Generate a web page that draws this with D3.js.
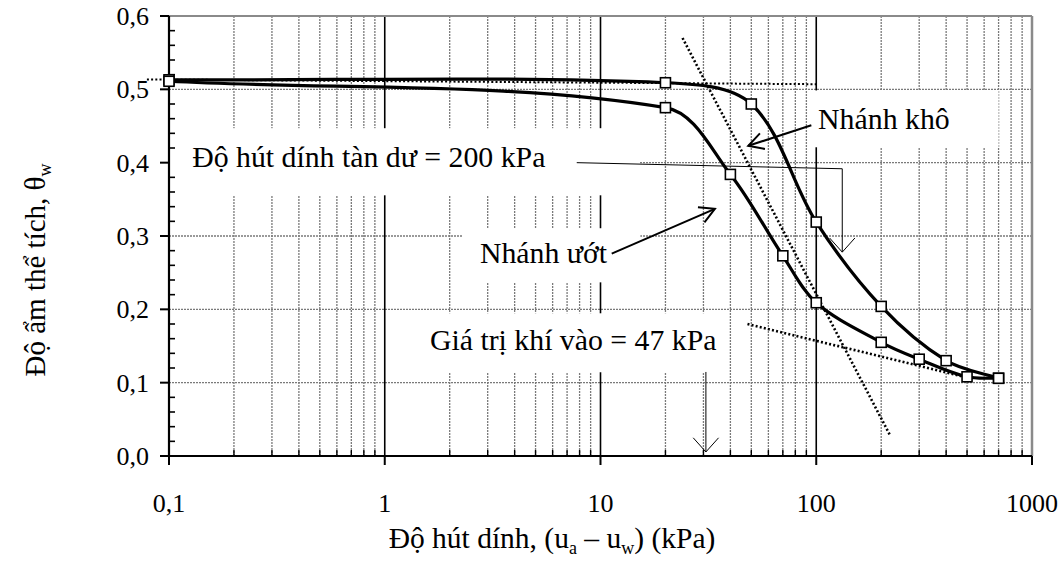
<!DOCTYPE html>
<html>
<head>
<meta charset="utf-8">
<script src="https://cdn.jsdelivr.net/npm/d3@7"></script>
<style>
body { margin: 0; background: #fff; }
text { font-family: "Liberation Serif", "Times New Roman", serif; fill: #000; }
</style>
</head>
<body>
<svg id="chart" width="1062" height="573"></svg>
<script>
// suction (kPa) and volumetric water content
const dryX = [0.1, 20, 50, 100, 200, 400, 700];
const dryY = [0.513, 0.509, 0.480, 0.319, 0.204, 0.130, 0.106];
const wetX = [0.1, 20, 40, 70, 100, 200, 300, 500, 700];
const wetY = [0.511, 0.475, 0.384, 0.273, 0.209, 0.155, 0.132, 0.108, 0.106];

// construction lines (dotted)
const satLineX = [0.079, 100];
const satLineY = [0.5135, 0.507];
const steepLineX = [24, 220];
const steepLineY = [0.570, 0.028];
const residLineX = [48, 500];
const residLineY = [0.180, 0.107];

const xTickValues = [0.1, 1, 10, 100, 1000];
const xTickLabels = ["0,1", "1", "10", "100", "1000"];
const yTickValues = [0, 0.1, 0.2, 0.3, 0.4, 0.5, 0.6];
const yTickLabels = ["0,0", "0,1", "0,2", "0,3", "0,4", "0,5", "0,6"];

const svg = d3.select("#chart"),
    width = +svg.attr("width"),
    height = +svg.attr("height");
const margin = {top: 16, right: 30, bottom: 117, left: 169};

const x = d3.scaleLog().domain([0.1, 1000]).range([margin.left, width - margin.right]);
const y = d3.scaleLinear().domain([0, 0.6]).range([height - margin.bottom, margin.top]);

const x0 = x.range()[0], x1 = x.range()[1], y0 = y.range()[0], y1 = y.range()[1];

// grid
const grid = svg.append("g");
const minorX = x.ticks().filter(function (d) {
    return xTickValues.indexOf(+d.toPrecision(6)) < 0;
});
grid.selectAll(".vminor").data(minorX).enter().append("line")
    .attr("x1", d => x(d)).attr("x2", d => x(d))
    .attr("y1", y1).attr("y2", y0)
    .attr("stroke", "#7a7a7a").attr("stroke-width", 1.3)
    .attr("stroke-dasharray", "2,1");
grid.selectAll(".hgrid").data(yTickValues.slice(1, 6)).enter().append("line")
    .attr("x1", x0).attr("x2", x1)
    .attr("y1", d => y(d)).attr("y2", d => y(d))
    .attr("stroke", "#7a7a7a").attr("stroke-width", 1.3)
    .attr("stroke-dasharray", "2,1");
grid.selectAll(".vmajor").data([1, 10, 100]).enter().append("line")
    .attr("x1", d => x(d)).attr("x2", d => x(d))
    .attr("y1", y1).attr("y2", y0)
    .attr("stroke", "#000").attr("stroke-width", 1.6);
// top and right frame
grid.append("line").attr("x1", x0).attr("x2", x1).attr("y1", y1).attr("y2", y1)
    .attr("stroke", "#8a8a8a").attr("stroke-width", 2);
grid.append("line").attr("x1", x1).attr("x2", x1).attr("y1", y1).attr("y2", y0)
    .attr("stroke", "#8a8a8a").attr("stroke-width", 2.5);

// labels with their white boxes (data coords)
const labels = [
    {text: "Độ hút dính tàn dư = 200 kPa", x: 0.128, y: 0.394, box: [0.1, 15.2, 0.447, 0.3555]},
    {text: "Nhánh khô", x: 102, y: 0.4465, box: [91, 700, 0.4985, 0.421]},
    {text: "Nhánh ướt", x: 2.76, y: 0.263, box: [2.28, 15.3, 0.3106, 0.2368]},
    {text: "Giá trị khí vào = 47 kPa", x: 1.62, y: 0.1441, box: [1.38, 36.6, 0.1946, 0.1142]}
];
svg.append("g").selectAll("rect").data(labels).enter().append("rect")
    .attr("x", d => x(d.box[0]) + 1)
    .attr("y", d => y(d.box[2]))
    .attr("width", d => x(d.box[1]) - x(d.box[0]) - 1)
    .attr("height", d => y(d.box[3]) - y(d.box[2]))
    .attr("fill", "#fff");

// axes
const axes = svg.append("g").attr("stroke", "#000");
axes.append("line").attr("x1", x0).attr("x2", x0).attr("y1", y1).attr("y2", y0 + 1)
    .attr("stroke-width", 2.2);
axes.append("line").attr("x1", x0 - 1).attr("x2", x1).attr("y1", y0).attr("y2", y0)
    .attr("stroke-width", 2.2);
axes.selectAll(".yt").data(yTickValues).enter().append("line")
    .attr("x1", x0 - 9).attr("x2", x0).attr("y1", d => y(d)).attr("y2", d => y(d))
    .attr("stroke-width", 2);
axes.selectAll(".ym").data(y.ticks(30).filter(d => Math.round(d * 100) % 10 !== 0)).enter().append("line")
    .attr("x1", x0).attr("x2", x0 + 6).attr("y1", d => y(d)).attr("y2", d => y(d))
    .attr("stroke-width", 1.6);
axes.selectAll(".xt").data(xTickValues).enter().append("line")
    .attr("x1", d => x(d)).attr("x2", d => x(d)).attr("y1", y0).attr("y2", y0 + 9)
    .attr("stroke-width", 2);
axes.selectAll(".xm").data(minorX).enter().append("line")
    .attr("x1", d => x(d)).attr("x2", d => x(d)).attr("y1", y0).attr("y2", y0 - 6)
    .attr("stroke-width", 1.4);

svg.append("g").selectAll("text").data(yTickValues).enter().append("text")
    .attr("x", x0 - 20).attr("y", d => y(d) + 9)
    .attr("text-anchor", "end").attr("font-size", 26)
    .text((d, i) => yTickLabels[i]);
svg.append("g").selectAll("text").data(xTickValues).enter().append("text")
    .attr("x", d => x(d)).attr("y", y0 + 56)
    .attr("text-anchor", "middle").attr("font-size", 26)
    .text((d, i) => xTickLabels[i]);

// dotted construction lines
const straight = d3.line().x(d => x(d[0])).y(d => y(d[1]));
[[satLineX, satLineY, 2], [steepLineX, steepLineY, 2.6], [residLineX, residLineY, 2.6]].forEach(function (l) {
    svg.append("path")
        .attr("d", straight(d3.zip(l[0], l[1])))
        .attr("fill", "none").attr("stroke", "#000")
        .attr("stroke-width", l[2]).attr("stroke-dasharray", "2,2.2");
});

// arrows
function arrow(pts, w, len, ang) {
    const p = pts.map(d => [x(d[0]), y(d[1])]);
    svg.append("path").attr("d", d3.line()(p))
        .attr("fill", "none").attr("stroke", "#000").attr("stroke-width", w);
    const a = p[p.length - 1], b = p[p.length - 2];
    const t = Math.atan2(b[1] - a[1], b[0] - a[0]);
    const head = [[a[0] + len * Math.cos(t + ang), a[1] + len * Math.sin(t + ang)], a,
        [a[0] + len * Math.cos(t - ang), a[1] + len * Math.sin(t - ang)]];
    svg.append("path").attr("d", d3.line()(head))
        .attr("fill", "none").attr("stroke", "#000").attr("stroke-width", w);
}
arrow([[94.9, 0.451], [48.4, 0.423]], 2, 17, 0.5);
arrow([[11.27, 0.276], [33.9, 0.337]], 2, 17, 0.5);
arrow([[7.76, 0.400], [132, 0.3917], [132, 0.278]], 1, 19, 0.73);
arrow([[30.8, 0.1146], [30.8, 0.0055]], 1, 19, 0.73);

// smoothed curve: bezier with chord-weighted tangents (like a spreadsheet "smoothed line")
function smoothPath(xs, ys) {
    const p = xs.map((v, i) => [x(v), y(ys[i])]);
    const n = p.length;
    const dist = (a, b) => Math.hypot(b[0] - a[0], b[1] - a[1]);
    const tan = p.map(function (pt, i) {
        const a = p[Math.max(0, i - 1)], b = p[Math.min(n - 1, i + 1)];
        const dd = dist(a, pt) + dist(pt, b);
        return [(b[0] - a[0]) / dd, (b[1] - a[1]) / dd];
    });
    const path = d3.path();
    path.moveTo(p[0][0], p[0][1]);
    for (let i = 0; i < n - 1; i++) {
        const d = dist(p[i], p[i + 1]) / 3;
        path.bezierCurveTo(p[i][0] + tan[i][0] * d, p[i][1] + tan[i][1] * d,
            p[i + 1][0] - tan[i + 1][0] * d, p[i + 1][1] - tan[i + 1][1] * d,
            p[i + 1][0], p[i + 1][1]);
    }
    return path.toString();
}
[[dryX, dryY], [wetX, wetY]].forEach(function (s) {
    svg.append("path")
        .attr("d", smoothPath(s[0], s[1]))
        .attr("fill", "none").attr("stroke", "#000").attr("stroke-width", 3.2)
        .attr("stroke-linejoin", "round");
});
const marks = d3.zip(dryX, dryY).concat(d3.zip(wetX, wetY));
svg.append("g").selectAll("rect").data(marks).enter().append("rect")
    .attr("x", d => x(d[0]) - 5).attr("y", d => y(d[1]) - 5)
    .attr("width", 10).attr("height", 10)
    .attr("fill", "#fff").attr("stroke", "#000").attr("stroke-width", 1.6);

// annotation texts
svg.append("g").selectAll("text").data(labels).enter().append("text")
    .attr("x", d => x(d.x)).attr("y", d => y(d.y))
    .attr("font-size", 29.8)
    .text(d => d.text);

// axis titles
const xt = svg.append("text").attr("x", 552).attr("y", 548)
    .attr("text-anchor", "middle").attr("font-size", 29.5);
xt.append("tspan").text("Độ hút dính, (u");
xt.append("tspan").attr("font-size", 18).attr("dy", 6).text("a");
xt.append("tspan").attr("dy", -6).text(" – u");
xt.append("tspan").attr("font-size", 18).attr("dy", 6).text("w");
xt.append("tspan").attr("dy", -6).text(") (kPa)");

const yt = svg.append("text").attr("transform", "translate(45,270) rotate(-90)")
    .attr("text-anchor", "middle").attr("font-size", 29);
yt.append("tspan").text("Độ ẩm thể tích, θ");
yt.append("tspan").attr("font-size", 18).attr("dy", 6).text("w");
</script>
</body>
</html>
